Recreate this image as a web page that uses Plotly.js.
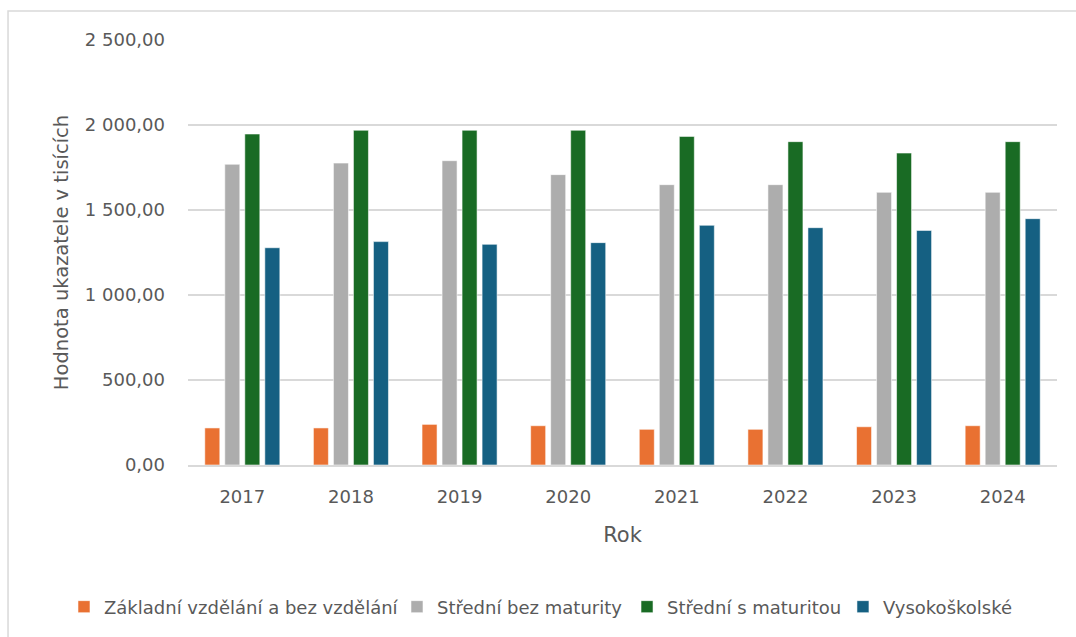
<!DOCTYPE html>
<html>
<head>
<meta charset="utf-8">
<script src="https://cdn.plot.ly/plotly-3.0.1.min.js"></script>
<style>
  html, body { margin: 0; padding: 0; background: #fff; overflow: hidden; }
  #chart { width: 1076px; height: 637px; }
</style>
</head>
<body>
<div id="chart"></div>
<script>
// Years on the category axis
const years = ['2017', '2018', '2019', '2020', '2021', '2022', '2023', '2024'];

// Series names (education level)
const seriesNames = [
  'Základní vzdělání a bez vzdělání',
  'Střední bez maturity',
  'Střední s maturitou',
  'Vysokoškolské'
];

// Values in thousands
const zakladni   = [218, 218, 239, 231, 210, 210, 225, 231];
const bezMatur   = [1769, 1776, 1790, 1708, 1649, 1649, 1604, 1604];
const sMaturitou = [1947, 1969, 1969, 1969, 1933, 1902, 1835, 1902];
const vysokoskol = [1278, 1314, 1298, 1308, 1410, 1396, 1380, 1449];

const seriesValues = [zakladni, bezMatur, sMaturitou, vysokoskol];
const seriesColors = ['#E97132', '#ADADAD', '#196B24', '#156082'];
const legendIds = ['legend', 'legend2', 'legend3', 'legend4'];
const legendX = [-0.1427, 0.2405, 0.5052, 0.7537];

const textColor = '#595959';
const fontFamily = '"DejaVu Sans", "Liberation Sans", sans-serif';

const traces = seriesNames.map((name, i) => ({
  type: 'bar',
  name: name,
  x: years,
  y: seriesValues[i],
  legend: legendIds[i],
  marker: {
    color: seriesColors[i],
    line: { color: 'rgba(255,255,255,0.55)', width: 1 }
  },
  hovertemplate: '%{x}: %{y:,.2f}<extra>' + name + '</extra>'
}));

const legendBase = {
  orientation: 'h',
  yref: 'paper',
  y: -0.334,
  yanchor: 'middle',
  xanchor: 'left',
  bgcolor: 'rgba(0,0,0,0)',
  font: { family: fontFamily, size: 18, color: textColor },
  itemclick: false,
  itemdoubleclick: false
};

const layout = {
  width: 1076,
  height: 637,
  margin: { l: 188, r: 19, t: 40, b: 172 },
  paper_bgcolor: '#ffffff',
  plot_bgcolor: '#ffffff',
  separators: ', ',
  font: { family: fontFamily, color: textColor },
  barmode: 'group',
  bargap: 0.263,
  bargroupgap: 0.25,
  xaxis: {
    type: 'category',
    showgrid: false,
    showline: true,
    linecolor: '#D9D9D9',
    linewidth: 1.5,
    ticks: '',
    ticklabelstandoff: 15,
    tickfont: { family: fontFamily, size: 18, color: textColor },
    title: {
      text: 'Rok',
      font: { family: fontFamily, size: 21, color: textColor },
      standoff: 21
    },
    fixedrange: true
  },
  yaxis: {
    range: [0, 2500],
    tickvals: [0, 500, 1000, 1500, 2000, 2500],
    tickformat: ',.2f',
    showgrid: true,
    gridcolor: '#D9D9D9',
    gridwidth: 1.5,
    zeroline: false,
    showline: false,
    ticks: '',
    ticklabelstandoff: 22,
    tickfont: { family: fontFamily, size: 18, color: textColor },
    title: {
      text: 'Hodnota ukazatele v tisících',
      font: { family: fontFamily, size: 19.5, color: textColor },
      standoff: 11
    },
    fixedrange: true
  },
  showlegend: true,
  legend:  Object.assign({}, legendBase, { x: legendX[0] }),
  legend2: Object.assign({}, legendBase, { x: legendX[1] }),
  legend3: Object.assign({}, legendBase, { x: legendX[2] }),
  legend4: Object.assign({}, legendBase, { x: legendX[3] }),
  shapes: [
    {
      // outer chart frame
      type: 'rect',
      xref: 'paper', yref: 'paper',
      x0: -0.2071, x1: 1.2,
      y0: -0.8, y1: 1.068,
      line: { color: '#D9D9D9', width: 1.5 },
      fillcolor: 'rgba(0,0,0,0)',
      layer: 'below'
    }
  ]
};

Plotly.newPlot('chart', traces, layout, { displayModeBar: false });
</script>
</body>
</html>
